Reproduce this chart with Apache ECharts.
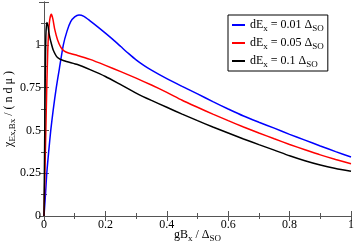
<!DOCTYPE html>
<html><head><meta charset="utf-8">
<script src="https://cdn.jsdelivr.net/npm/echarts@6/dist/echarts.min.js"></script>
<style>html,body{margin:0;padding:0;background:#fff}#c{width:354px;height:247px}</style>
</head><body><div id="c"></div>
<script>
const seriesNames = ['dE{sub|x} = 0.01 Δ{sub|SO}', 'dE{sub|x} = 0.05 Δ{sub|SO}', 'dE{sub|x} = 0.1 Δ{sub|SO}'];
const seriesColors = ['#0000ff', '#ff0000', '#000000'];
const blue = [[0,0],[0.005,0.13],[0.009,0.25],[0.015,0.37],[0.022,0.5],[0.03,0.62],[0.04,0.75],[0.05,0.86],[0.063,1.0],[0.075,1.08],[0.087,1.135],[0.1,1.163],[0.114,1.174],[0.13,1.166],[0.15,1.14],[0.175,1.105],[0.2,1.068],[0.225,1.03],[0.25,0.99],[0.275,0.95],[0.3,0.912],[0.325,0.88],[0.35,0.852],[0.4,0.802],[0.45,0.757],[0.5,0.713],[0.55,0.668],[0.6,0.625],[0.65,0.584],[0.7,0.548],[0.75,0.513],[0.8,0.477],[0.85,0.443],[0.9,0.409],[0.95,0.376],[1.0,0.345]];
const red = [[0,0],[0.003,0.25],[0.006,0.5],[0.009,0.75],[0.012,0.95],[0.015,1.07],[0.019,1.15],[0.024,1.178],[0.029,1.15],[0.035,1.09],[0.044,1.03],[0.055,0.985],[0.065,0.965],[0.08,0.952],[0.109,0.938],[0.15,0.915],[0.2,0.88],[0.25,0.843],[0.3,0.805],[0.35,0.765],[0.4,0.722],[0.45,0.676],[0.5,0.635],[0.55,0.595],[0.6,0.557],[0.65,0.52],[0.7,0.485],[0.75,0.451],[0.8,0.418],[0.85,0.387],[0.9,0.357],[0.95,0.33],[1.0,0.305]];
const black = [[0,0],[0.002,0.4],[0.004,0.8],[0.006,1.05],[0.009,1.13],[0.013,1.11],[0.017,1.06],[0.022,1.02],[0.03,0.97],[0.044,0.926],[0.065,0.907],[0.109,0.885],[0.15,0.855],[0.2,0.815],[0.25,0.767],[0.3,0.718],[0.35,0.675],[0.4,0.635],[0.45,0.595],[0.5,0.557],[0.55,0.52],[0.6,0.485],[0.65,0.45],[0.7,0.417],[0.75,0.385],[0.8,0.352],[0.85,0.323],[0.9,0.298],[0.95,0.278],[1.0,0.262]];
const seriesData = [blue, red, black];
const xTicks = [0, 0.2, 0.4, 0.6, 0.8, 1];
const yTicks = [0, 0.25, 0.5, 0.75, 1];

const FONT = 'Liberation Serif';
const rich = {sub: {fontFamily: FONT, fontSize: 9, padding: [7, 0, 0, 0], color: '#000'}};
const axisCol = '#555';
function fmt(v, list) {
  for (const t of list) if (Math.abs(v - t) < 1e-9) return String(t);
  return '';
}
const baseAxis = {
  axisLine: {show: true, lineStyle: {color: axisCol, width: 1}},
  axisTick: {show: true, inside: true, length: 5, lineStyle: {color: axisCol}},
  minorTick: {show: true, splitNumber: 2, length: 3, lineStyle: {color: axisCol}},
  splitLine: {show: false}
};
const chart = echarts.init(document.getElementById('c'), null, {renderer: 'canvas'});
chart.setOption({
  animation: false,
  backgroundColor: '#fff',
  grid: {left: 44, right: 3, top: 2, bottom: 31, containLabel: false, outerBoundsMode: 'none'},
  legend: {
    orient: 'vertical', left: 228, top: 15,
    backgroundColor: '#fff', borderColor: '#000', borderWidth: 1,
    padding: [4, 4, 2, 4], itemGap: 4, itemWidth: 13, itemHeight: 2,
    icon: 'rect',
    data: seriesNames,
    textStyle: {fontFamily: FONT, fontSize: 12, color: '#000', rich: rich}
  },
  xAxis: [Object.assign({}, baseAxis, {
    type: 'value', min: 0, max: 1, interval: 0.2, position: 'bottom',
    name: 'gB{sub|x} / Δ{sub|SO}', nameLocation: 'middle', nameGap: 11, nameMoveOverlap: false,
    nameTextStyle: {fontFamily: FONT, fontSize: 12, color: '#000', rich: rich},
    axisLabel: {margin: 3, fontFamily: FONT, fontSize: 12, color: '#000', formatter: v => fmt(v, xTicks)}
  }), Object.assign({}, baseAxis, {
    type: 'value', min: 0, max: 1, interval: 0.2, position: 'top',
    axisLabel: {show: false}
  })],
  yAxis: [Object.assign({}, baseAxis, {
    type: 'value', min: 0, max: 1.25, interval: 0.25, position: 'left',
    name: 'χ{sub|Ex,Bx} / ( n d μ )', nameLocation: 'middle', nameGap: 27, nameMoveOverlap: false,
    nameTextStyle: {fontFamily: FONT, fontSize: 12, color: '#000', rich: rich},
    axisLabel: {margin: 3, fontFamily: FONT, fontSize: 12, color: '#000', formatter: v => fmt(v, yTicks)}
  }), Object.assign({}, baseAxis, {
    type: 'value', min: 0, max: 1.25, interval: 0.25, position: 'right',
    axisLabel: {show: false}
  })],
  series: seriesData.map((d, i) => ({
    name: seriesNames[i], type: 'line', data: d, showSymbol: false, smooth: 0.2,
    xAxisIndex: 0, yAxisIndex: 0,
    lineStyle: {color: seriesColors[i], width: 1.5}, itemStyle: {color: seriesColors[i]}
  }))
});
</script></body></html>
